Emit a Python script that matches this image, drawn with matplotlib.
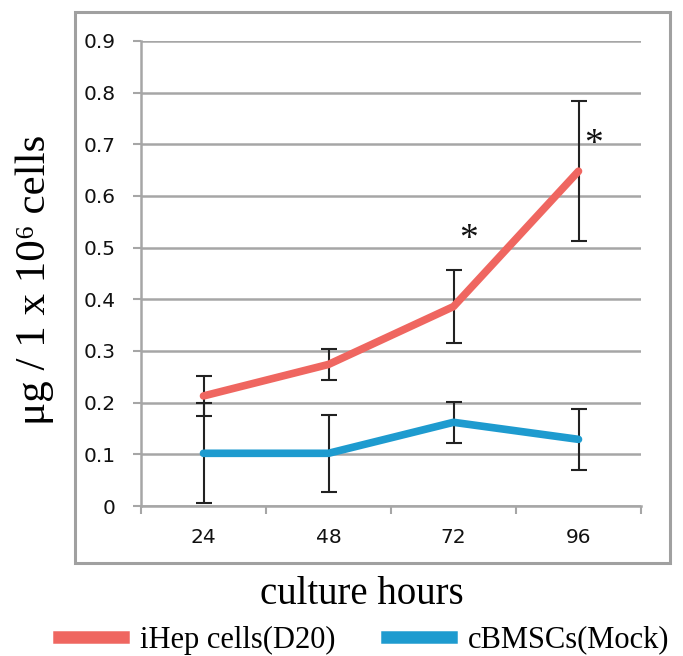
import matplotlib
matplotlib.use("Agg")
import matplotlib.pyplot as plt
from matplotlib.patches import Rectangle
from matplotlib.lines import Line2D

# data
hours = ["24", "48", "72", "96"]
ihep_mean = [0.213, 0.274, 0.386, 0.648]
ihep_err = [0.038, 0.030, 0.070, 0.136]
mock_mean = [0.102, 0.102, 0.162, 0.129]
mock_err = [0.097, 0.074, 0.040, 0.059]
star_idx = [2, 3]
star_y = [0.515, 0.700]

RED = "#EF6660"
BLUE = "#1E9BCF"
GRID = "#A6A6A6"
SERIF = ["Liberation Serif", "DejaVu Serif"]

fig = plt.figure(figsize=(6.83, 6.56), dpi=100)
ax = fig.add_axes([141 / 683, 1 - 506 / 656, (641 - 141) / 683, (506 - 41) / 656])

# outer frame around the chart
fig.patches.append(Rectangle((75 / 683, 1 - 563 / 656), (670 - 75) / 683, (563 - 12) / 656,
                             transform=fig.transFigure, fill=False, edgecolor="#A0A0A0",
                             linewidth=2.2, zorder=0))

x = range(len(hours))
ax.errorbar(x, ihep_mean, yerr=ihep_err, color=RED, lw=5.5, solid_capstyle="round",
            ecolor="#222222", elinewidth=1.5, capsize=6, capthick=1.5, zorder=3)
ax.errorbar(x, mock_mean, yerr=mock_err, color=BLUE, lw=5.5, solid_capstyle="round",
            ecolor="#222222", elinewidth=1.5, capsize=6, capthick=1.5, zorder=3)

for i, yv in zip(star_idx, star_y):
    ax.text(i + 0.12, yv, "*", ha="center", va="center", fontsize=27,
            family=SERIF, color="#111111")

ax.set_xlim(-0.5, 3.5)
ax.set_ylim(0, 0.9)
ax.set_yticks([i / 10 for i in range(10)])
ax.set_yticklabels(["0"] + [f"{i / 10:.1f}" for i in range(1, 10)])
ax.set_xticks(list(x))
ax.set_xticklabels(hours)
ax.set_xticks([-0.5, 0.5, 1.5, 2.5, 3.5], minor=True)

ax.grid(axis="y", color=GRID, lw=1.8)
ax.set_axisbelow(True)
for s in ["top", "right"]:
    ax.spines[s].set_visible(False)
for s in ["left", "bottom"]:
    ax.spines[s].set_color(GRID)
    ax.spines[s].set_linewidth(1.8)

ax.tick_params(axis="y", length=6, width=1.5, color=GRID, pad=12)
ax.tick_params(axis="x", which="major", length=0, pad=16)
ax.tick_params(axis="x", which="minor", length=6, width=1.5, color=GRID)
for lab in ax.get_xticklabels() + ax.get_yticklabels():
    lab.set_family(["Liberation Sans Narrow", "DejaVu Sans"])
    lab.set_fontsize(14.5)
    lab.set_color("#111111")

fig.text(35 / 683, 1 - 280 / 656, "μg / 1 x 10⁶ cells", rotation=90, ha="center", va="center",
         fontsize=31, family=SERIF)
fig.text(362 / 683, 1 - 595 / 656, "culture hours", ha="center", va="center",
         fontsize=28, family=SERIF)

handles = [Line2D([], [], color=RED, lw=9), Line2D([], [], color=BLUE, lw=9)]
fig.legend(handles, ["iHep cells(D20)", "cBMSCs(Mock)"], ncol=2, frameon=False,
           loc="center", bbox_to_anchor=(364 / 683, 1 - 640 / 656),
           prop={"family": SERIF, "size": 22},
           handlelength=2.1, handletextpad=0.55, columnspacing=1.7)

fig.savefig("out.png", dpi=100)
